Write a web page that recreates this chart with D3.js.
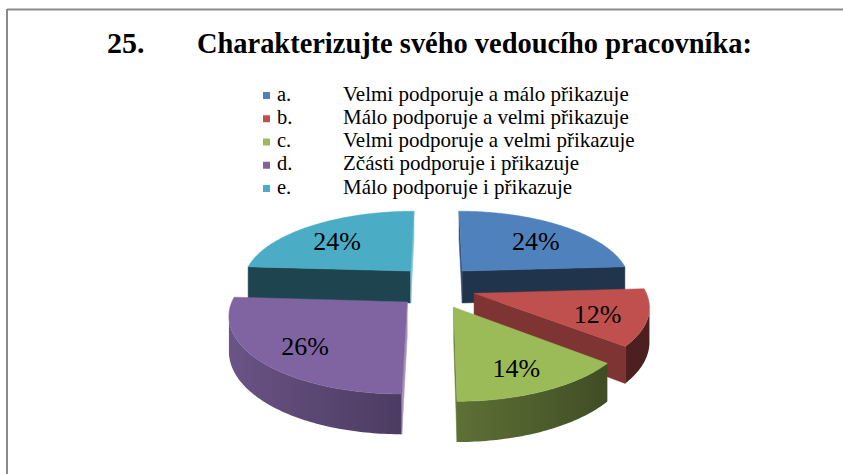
<!DOCTYPE html>
<html>
<head>
<meta charset="utf-8">
<script src="https://cdn.jsdelivr.net/npm/d3@7"></script>
<style>
  body { margin: 0; background: #fff; }
  svg { display: block; }
</style>
</head>
<body>
<div class="Canvas"></div>
<script>
const titleNumber = '25.';
const title = 'Charakterizujte svého vedoucího pracovníka:';
const categories = ['a.', 'b.', 'c.', 'd.', 'e.'];
const descriptions = [
  'Velmi podporuje a málo přikazuje',
  'Málo podporuje a velmi přikazuje',
  'Velmi podporuje a velmi přikazuje',
  'Zčásti podporuje i přikazuje',
  'Málo podporuje i přikazuje',
];
const values = [24, 12, 14, 26, 24];
const colors = ['#4F81BD', '#C0504D', '#9BBB59', '#8064A2', '#4BACC6'];

const width = 843;
const height = 474;
const serif = 'Liberation Serif, Times New Roman, serif';

// 3d pie projection (u = right, v = toward viewer, h = 0 bottom .. 1 top)
const cx = 436.5;
const cy = 319.5;
const scaleU = 170;
const scaleV = 78;
const depthPx = 33;
const persp = 0.15;
const explodeU = 0.229;
const explodeV = 0.3;
const labelRadius = 0.72;
const step = Math.PI / 180;

const project = (u, v, h) => {
  const w = 1 - persp * v;
  return [cx + (scaleU * u) / w, cy + (scaleV * v - depthPx * h) / w];
};
// camera sits at u = 0, v = 1/persp
const facing = (p, n) => (0 - p[0]) * n[0] + (1 / persp - p[1]) * n[1] > 0;

const shade = (c, f) => {
  const r = d3.rgb(c);
  return d3.rgb(r.r * f, r.g * f, r.b * f).formatHex();
};
const wallShade = (t) => Math.max(0.4, Math.min(0.88, 0.6 - 0.25 * Math.sin(t)));
const color = d3.scaleOrdinal().domain(categories).range(colors);

const svg = d3.select('.Canvas').append('svg').attr('width', width).attr('height', height);
const defs = svg.append('defs');

// frame
svg.append('line').attr('x1', 7).attr('y1', 9.5).attr('x2', width).attr('y2', 9.5)
  .attr('stroke', '#8a8a8a').attr('stroke-width', 2);
svg.append('line').attr('x1', 7).attr('y1', 9).attr('x2', 7).attr('y2', height)
  .attr('stroke', '#8a8a8a').attr('stroke-width', 2);

// title
svg.append('text').attr('x', 107).attr('y', 53)
  .attr('font-family', serif).attr('font-size', 30).attr('font-weight', 'bold')
  .text(titleNumber);
svg.append('text').attr('x', 197).attr('y', 53)
  .attr('font-family', serif).attr('font-size', 30).attr('font-weight', 'bold')
  .attr('textLength', 555).attr('lengthAdjust', 'spacingAndGlyphs')
  .text(title);

// legend
const legendY = d3.scalePoint().domain(categories).range([100.5, 193.5]);
const legend = svg.append('g').selectAll('g').data(categories).enter().append('g')
  .attr('transform', (d) => `translate(0,${legendY(d)})`);
legend.append('rect').attr('x', 263).attr('y', -8.5).attr('width', 7).attr('height', 7)
  .attr('fill', (d) => color(d));
legend.append('text').attr('x', 277).attr('font-family', serif).attr('font-size', 20.5)
  .attr('fill', '#000').text((d) => d);
legend.append('text').attr('x', 343).attr('font-family', serif).attr('font-size', 21)
  .attr('fill', '#000')
  .text((d, i) => descriptions[i]);

// pie
const arcs = d3.pie().sort(null)(values).map((a, i) => {
  const mid = (a.startAngle + a.endAngle) / 2;
  return { ...a, key: categories[i], mid, ou: explodeU * Math.sin(mid), ov: -explodeV * Math.cos(mid) };
});
const line = d3.line().curve(d3.curveLinearClosed);
const pieG = svg.append('g');

const drawSlice = (s, idx) => {
  const g = pieG.append('g').attr('class', 'slice');
  const base = color(s.key);
  const pt = (t, r) => [s.ou + r * Math.sin(t), s.ov - r * Math.cos(t)];
  const faces = [];
  const n = Math.max(2, Math.ceil((s.endAngle - s.startAngle) / step));
  const angles = d3.range(n + 1).map((i) => s.startAngle + ((s.endAngle - s.startAngle) * i) / n);

  // outer wall: the part that faces the camera, one polygon with a gradient
  const vis = angles.filter((t) => facing(pt(t, 1), [Math.sin(t), -Math.cos(t)]));
  if (vis.length > 1) {
    const topPts = vis.map((t) => { const p = pt(t, 1); return project(p[0], p[1], 1); });
    const botPts = vis.map((t) => { const p = pt(t, 1); return project(p[0], p[1], 0); }).reverse();
    const xs = topPts.map((p) => p[0]);
    const x0 = d3.min(xs);
    const x1 = d3.max(xs);
    const grad = defs.append('linearGradient').attr('id', `wall${idx}`)
      .attr('gradientUnits', 'userSpaceOnUse')
      .attr('x1', x0).attr('x2', x1).attr('y1', 0).attr('y2', 0);
    const stops = vis.map((t, i) => ({ o: (xs[i] - x0) / (x1 - x0 || 1), c: shade(base, wallShade(t)) }))
      .sort((a, b) => a.o - b.o);
    grad.selectAll('stop').data(stops).enter().append('stop')
      .attr('offset', (d) => d.o).attr('stop-color', (d) => d.c);
    faces.push({ pts: topPts.concat(botPts), fill: `url(#wall${idx})`, stroke: 'none' });
  }

  // radial faces
  const apex = [s.ou, s.ov];
  const radial = (t, nrm) => {
    if (!facing(apex, nrm)) return;
    const p = pt(t, 1);
    let fill = shade(base, 0.4);
    if (nrm[0] > 0.5) fill = d3.interpolateRgb(base, '#fff')(0.3);
    else if (nrm[0] < -0.5) fill = shade(base, 0.65);
    faces.push({
      pts: [project(apex[0], apex[1], 1), project(p[0], p[1], 1), project(p[0], p[1], 0), project(apex[0], apex[1], 0)],
      fill,
      stroke: fill,
    });
  };
  radial(s.startAngle, [-Math.cos(s.startAngle), -Math.sin(s.startAngle)]);
  radial(s.endAngle, [Math.cos(s.endAngle), Math.sin(s.endAngle)]);

  // top
  const top = [project(apex[0], apex[1], 1)].concat(angles.map((t) => {
    const p = pt(t, 1);
    return project(p[0], p[1], 1);
  }));
  faces.push({ pts: top, fill: base, stroke: base });

  g.selectAll('path').data(faces).enter().append('path')
    .attr('d', (d) => line(d.pts))
    .attr('fill', (d) => d.fill)
    .attr('stroke', (d) => d.stroke)
    .attr('stroke-width', 0.5);
};

arcs.map((a, i) => ({ a, i })).sort((p, q) => p.a.ov - q.a.ov).forEach((d) => drawSlice(d.a, d.i));

// labels
const total = d3.sum(values);
const labelPos = (d) => project(d.ou + labelRadius * Math.sin(d.mid), d.ov - labelRadius * Math.cos(d.mid), 1);
svg.append('g').selectAll('text').data(arcs).enter().append('text')
  .attr('x', (d) => labelPos(d)[0])
  .attr('y', (d) => labelPos(d)[1] + 12)
  .attr('text-anchor', 'middle')
  .attr('font-family', serif)
  .attr('font-size', 26)
  .attr('fill', '#000')
  .text((d) => `${Math.round((d.value / total) * 100)}%`);
</script>
</body>
</html>
